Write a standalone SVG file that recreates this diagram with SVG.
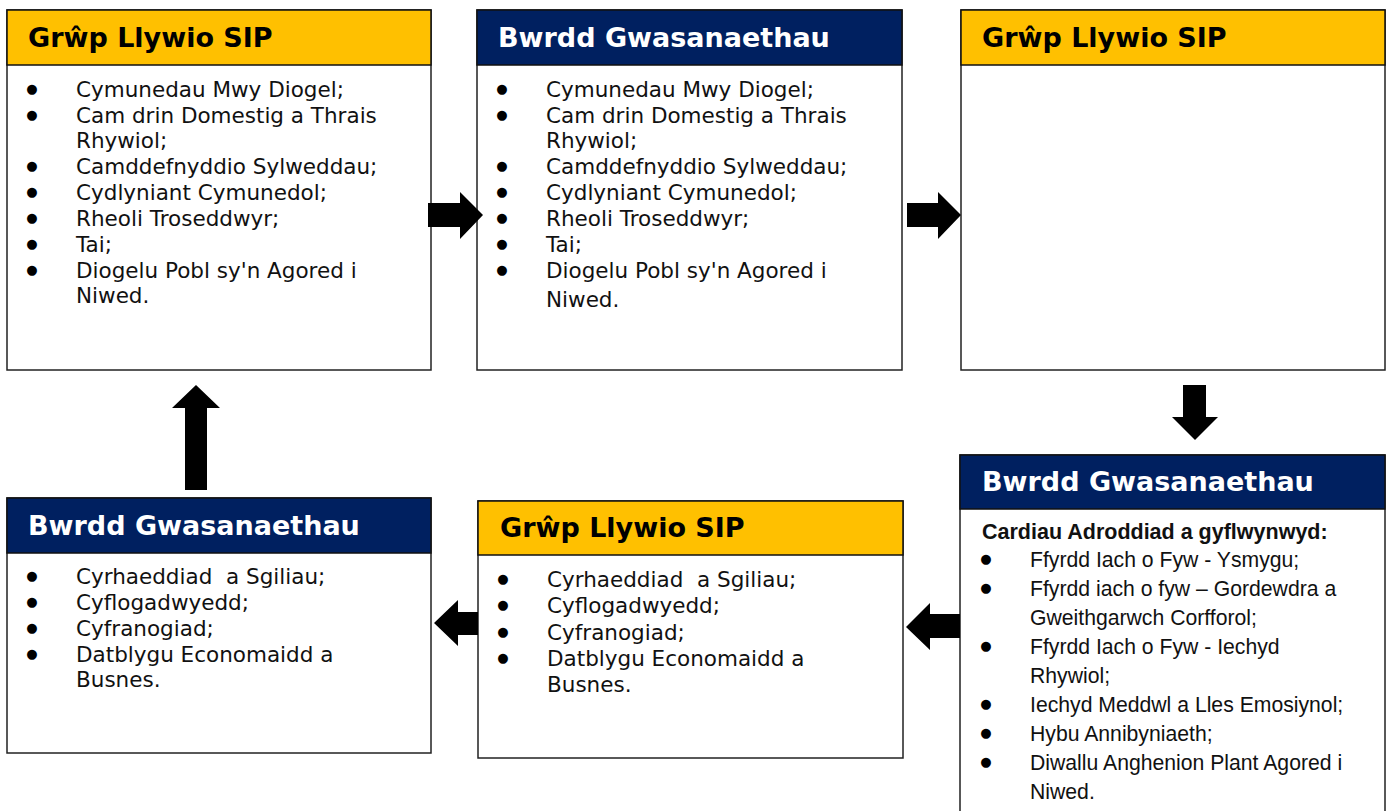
<svg xmlns="http://www.w3.org/2000/svg" width="1389" height="811" viewBox="0 0 1389 811">
<style>
.box{fill:#fff;stroke:#222;stroke-width:1.5}
.hy{fill:#FFC000;stroke:#111;stroke-width:1.5}
.hn{fill:#002060;stroke:#111;stroke-width:1.5}
.tt{font-family:"DejaVu Sans",Verdana,sans-serif;font-weight:bold;font-size:27px}
.tb{fill:#000}
.tw{fill:#fff}
.v{font-family:"DejaVu Sans",Verdana,sans-serif;font-size:21.5px;fill:#111;white-space:pre}
.a{font-family:"Liberation Sans",Arial,sans-serif;font-size:21.2px;fill:#111;white-space:pre}
.ab{font-family:"Liberation Sans",Arial,sans-serif;font-size:21.5px;font-weight:bold;fill:#111}
.bl{font-family:"DejaVu Sans",sans-serif;font-size:13px;fill:#000;text-anchor:middle}
.arr{fill:#000}
</style>
<rect width="1389" height="811" fill="#fff"/>

<g id="node-top-left">
<rect class="box" x="7" y="10" width="424" height="360"/>
<rect class="hy" x="7" y="10" width="424" height="55"/>
<text class="tt tb" x="28" y="47">Grŵp Llywio SIP</text>
<g class="bl"><text x="32" y="93">●</text><text x="32" y="119">●</text><text x="32" y="170">●</text><text x="32" y="196">●</text><text x="32" y="222">●</text><text x="32" y="248">●</text><text x="32" y="274">●</text></g>
<text class="v" x="76" y="97">Cymunedau Mwy Diogel;</text>
<text class="v" x="76" y="123">Cam drin Domestig a Thrais</text>
<text class="v" x="76" y="148">Rhywiol;</text>
<text class="v" x="76" y="174">Camddefnyddio Sylweddau;</text>
<text class="v" x="76" y="200">Cydlyniant Cymunedol;</text>
<text class="v" x="76" y="226">Rheoli Troseddwyr;</text>
<text class="v" x="76" y="252">Tai;</text>
<text class="v" x="76" y="278">Diogelu Pobl sy'n Agored i</text>
<text class="v" x="76" y="303">Niwed.</text>
</g>

<g id="node-top-middle">
<rect class="box" x="477" y="10" width="425" height="360"/>
<rect class="hn" x="477" y="10" width="425" height="55"/>
<text class="tt tw" x="498" y="47">Bwrdd Gwasanaethau</text>
<g class="bl"><text x="502" y="93">●</text><text x="502" y="119">●</text><text x="502" y="170">●</text><text x="502" y="196">●</text><text x="502" y="222">●</text><text x="502" y="248">●</text><text x="502" y="274">●</text></g>
<text class="v" x="546" y="97">Cymunedau Mwy Diogel;</text>
<text class="v" x="546" y="123">Cam drin Domestig a Thrais</text>
<text class="v" x="546" y="148">Rhywiol;</text>
<text class="v" x="546" y="174">Camddefnyddio Sylweddau;</text>
<text class="v" x="546" y="200">Cydlyniant Cymunedol;</text>
<text class="v" x="546" y="226">Rheoli Troseddwyr;</text>
<text class="v" x="546" y="252">Tai;</text>
<text class="v" x="546" y="278">Diogelu Pobl sy'n Agored i</text>
<text class="v" x="546" y="307">Niwed.</text>
</g>

<g id="node-top-right">
<rect class="box" x="961" y="10" width="424" height="360"/>
<rect class="hy" x="961" y="10" width="424" height="55"/>
<text class="tt tb" x="982" y="47">Grŵp Llywio SIP</text>
</g>

<g id="node-bottom-right">
<rect class="box" x="960" y="455" width="425" height="370"/>
<rect class="hn" x="960" y="455" width="425" height="54"/>
<text class="tt tw" x="982" y="491">Bwrdd Gwasanaethau</text>
<text class="ab" x="982" y="539">Cardiau Adroddiad a gyflwynwyd:</text>
<g class="bl"><text x="986" y="563">●</text><text x="986" y="592">●</text><text x="986" y="650">●</text><text x="986" y="708">●</text><text x="986" y="737">●</text><text x="986" y="766">●</text></g>
<text class="a" x="1030" y="567">Ffyrdd Iach o Fyw - Ysmygu;</text>
<text class="a" x="1030" y="596">Ffyrdd iach o fyw – Gordewdra a</text>
<text class="a" x="1030" y="625">Gweithgarwch Corfforol;</text>
<text class="a" x="1030" y="654">Ffyrdd Iach o Fyw - Iechyd</text>
<text class="a" x="1030" y="683">Rhywiol;</text>
<text class="a" x="1030" y="712">Iechyd Meddwl a Lles Emosiynol;</text>
<text class="a" x="1030" y="741">Hybu Annibyniaeth;</text>
<text class="a" x="1030" y="770">Diwallu Anghenion Plant Agored i</text>
<text class="a" x="1030" y="799">Niwed.</text>
</g>

<g id="node-bottom-middle">
<rect class="box" x="478" y="501" width="425" height="257"/>
<rect class="hy" x="478" y="501" width="425" height="54"/>
<text class="tt tb" x="500" y="537">Grŵp Llywio SIP</text>
<g class="bl"><text x="503" y="583">●</text><text x="503" y="609">●</text><text x="503" y="636">●</text><text x="503" y="662">●</text></g>
<text class="v" x="547" y="587">Cyrhaeddiad  a Sgiliau;</text>
<text class="v" x="547" y="613">Cyflogadwyedd;</text>
<text class="v" x="547" y="640">Cyfranogiad;</text>
<text class="v" x="547" y="666">Datblygu Economaidd a</text>
<text class="v" x="547" y="692">Busnes.</text>
</g>

<g id="node-bottom-left">
<rect class="box" x="7" y="498" width="424" height="255"/>
<rect class="hn" x="7" y="498" width="424" height="55"/>
<text class="tt tw" x="28" y="535">Bwrdd Gwasanaethau</text>
<g class="bl"><text x="32" y="580">●</text><text x="32" y="606">●</text><text x="32" y="632">●</text><text x="32" y="658">●</text></g>
<text class="v" x="76" y="584">Cyrhaeddiad  a Sgiliau;</text>
<text class="v" x="76" y="610">Cyflogadwyedd;</text>
<text class="v" x="76" y="636">Cyfranogiad;</text>
<text class="v" x="76" y="662">Datblygu Economaidd a</text>
<text class="v" x="76" y="687">Busnes.</text>
</g>

<g id="connectors">
<polygon class="arr" points="428,203 460,203 460,192 483,215 460,239 460,227 428,227"/>
<polygon class="arr" points="907,203 938,203 938,192 961,215 938,239 938,227 907,227"/>
<polygon class="arr" points="1183,385 1206,385 1206,417 1218,417 1195,440 1172,417 1183,417"/>
<polygon class="arr" points="960,614 930,614 930,603 906,627 930,650 930,638 960,638"/>
<polygon class="arr" points="478,612 458,612 458,600 434,623 458,646 458,635 478,635"/>
<polygon class="arr" points="185,490 185,408 172,408 196,385 220,408 207,408 207,490"/>
</g>
</svg>
